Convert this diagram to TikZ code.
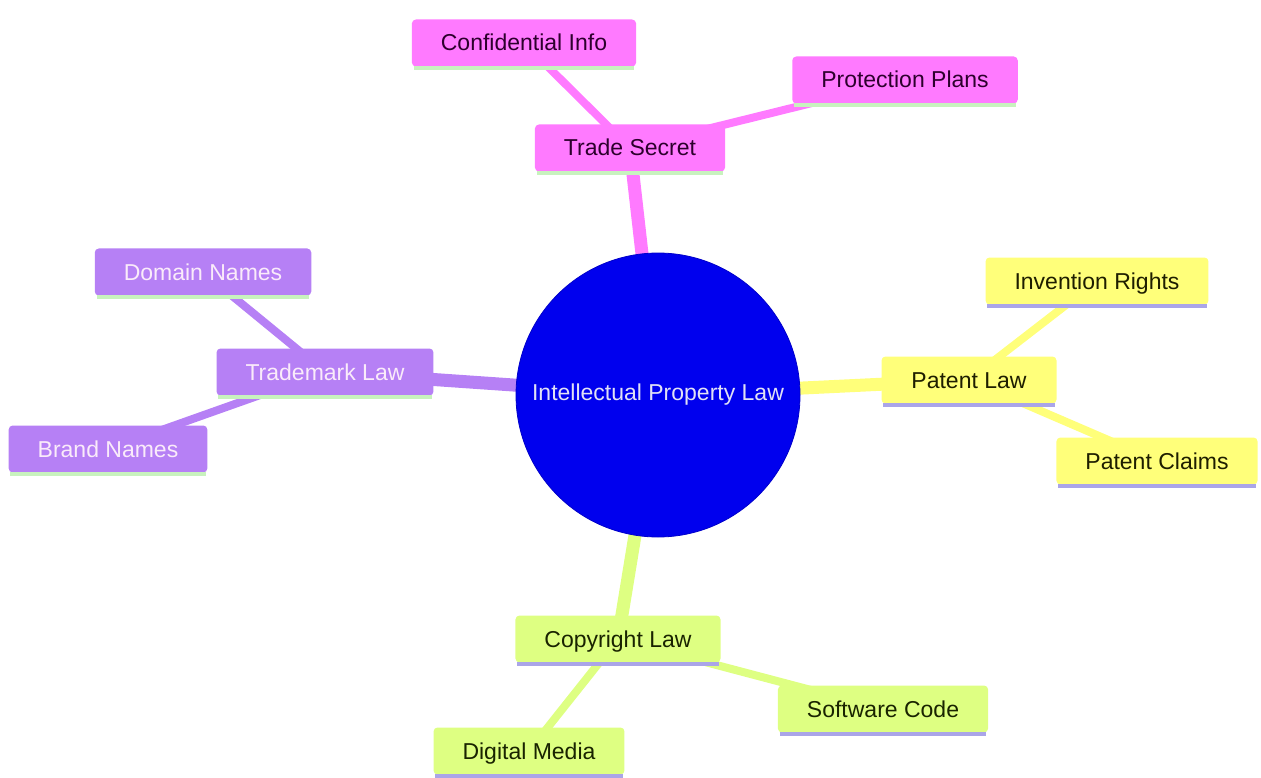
\documentclass[tikz,border=0pt]{standalone}
\usepackage{fontspec}
\setmainfont{Liberation Sans}
\usetikzlibrary{backgrounds,calc}
\definecolor{pinkc}{RGB}{255,122,255}
\definecolor{purplec}{RGB}{182,128,245}
\definecolor{yellowc}{RGB}{255,255,122}
\definecolor{limec}{RGB}{222,255,130}
\definecolor{rootc}{RGB}{0,0,238}
\definecolor{greenline}{RGB}{200,242,190}
\definecolor{lavline}{RGB}{170,165,232}
\definecolor{darkpink}{RGB}{45,0,45}
\definecolor{lightpurple}{RGB}{250,235,250}
\definecolor{darkyellow}{RGB}{30,30,0}
\definecolor{darklime}{RGB}{25,35,0}
\definecolor{roottext}{RGB}{225,225,245}
\tikzset{
  box/.style={rectangle, rounded corners=4pt, inner xsep=29pt, inner ysep=0pt,
    minimum height=47pt, text height=19pt, text depth=3pt,
    font=\fontsize{23}{26}\selectfont},
  pinkbox/.style={box, fill=pinkc, text=darkpink},
  purplebox/.style={box, fill=purplec, text=lightpurple},
  yellowbox/.style={box, fill=yellowc, text=darkyellow},
  limebox/.style={box, fill=limec, text=darklime},
  trunk/.style={line width=13pt},
  twig/.style={line width=8pt},
  uline/.style={line width=3.5pt},
}
\newcommand{\mmunderline}[2]{\draw[uline,#2] ($(#1.south west)+(2,1.5)$) -- ($(#1.south east)+(-2,1.5)$);}
\begin{document}
\begin{tikzpicture}[x=1pt,y=-1pt]
\useasboundingbox (0,0) rectangle (1261,778);
% root
\node[circle, fill=rootc, draw=rootc!85!black, line width=0.8pt, minimum size=284pt, inner sep=0pt,
  text=roottext, font=\fontsize{23}{26}\selectfont] (root) at (658,395) {Intellectual Property Law};
% trade secret
\node[pinkbox] (ts) at (630,148) {Trade Secret};
\node[pinkbox] (ci) at (524,43) {Confidential Info};
\node[pinkbox] (pp) at (905,80) {Protection Plans};
% trademark
\node[purplebox] (tm) at (325,372) {Trademark Law};
\node[purplebox] (dn) at (203,272) {Domain Names};
\node[purplebox] (bn) at (108,449) {Brand Names};
% patent
\node[yellowbox, minimum width=175pt] (pl) at (969,380) {Patent Law};
\node[yellowbox] (ir) at (1097,281) {Invention Rights};
\node[yellowbox] (pc) at (1157,461) {Patent Claims};
% copyright
\node[limebox] (cl) at (618,639) {Copyright Law};
\node[limebox] (sc) at (883,709) {Software Code};
\node[limebox] (dm) at (529,751) {Digital Media};
% underlines
\mmunderline{ts}{greenline}
\mmunderline{ci}{greenline}
\mmunderline{pp}{greenline}
\mmunderline{tm}{greenline}
\mmunderline{dn}{greenline}
\mmunderline{bn}{greenline}
\mmunderline{pl}{lavline}
\mmunderline{ir}{lavline}
\mmunderline{pc}{lavline}
\mmunderline{cl}{lavline}
\mmunderline{sc}{lavline}
\mmunderline{dm}{lavline}
\begin{scope}[on background layer]
\draw[trunk, pinkc] (root.center) -- (ts.center);
\draw[twig, pinkc] (ts.center) -- (ci.center);
\draw[twig, pinkc] (ts.center) -- (pp.center);
\draw[trunk, purplec] (root.center) -- (tm.center);
\draw[twig, purplec] (tm.center) -- (dn.center);
\draw[twig, purplec] (tm.center) -- (bn.center);
\draw[trunk, yellowc] (root.center) -- (pl.center);
\draw[twig, yellowc] (pl.center) -- (ir.center);
\draw[twig, yellowc] (pl.center) -- (pc.center);
\draw[trunk, limec] (root.center) -- (cl.center);
\draw[twig, limec] (cl.center) -- (sc.center);
\draw[twig, limec] (cl.center) -- (dm.center);
\end{scope}
\end{tikzpicture}
\end{document}
